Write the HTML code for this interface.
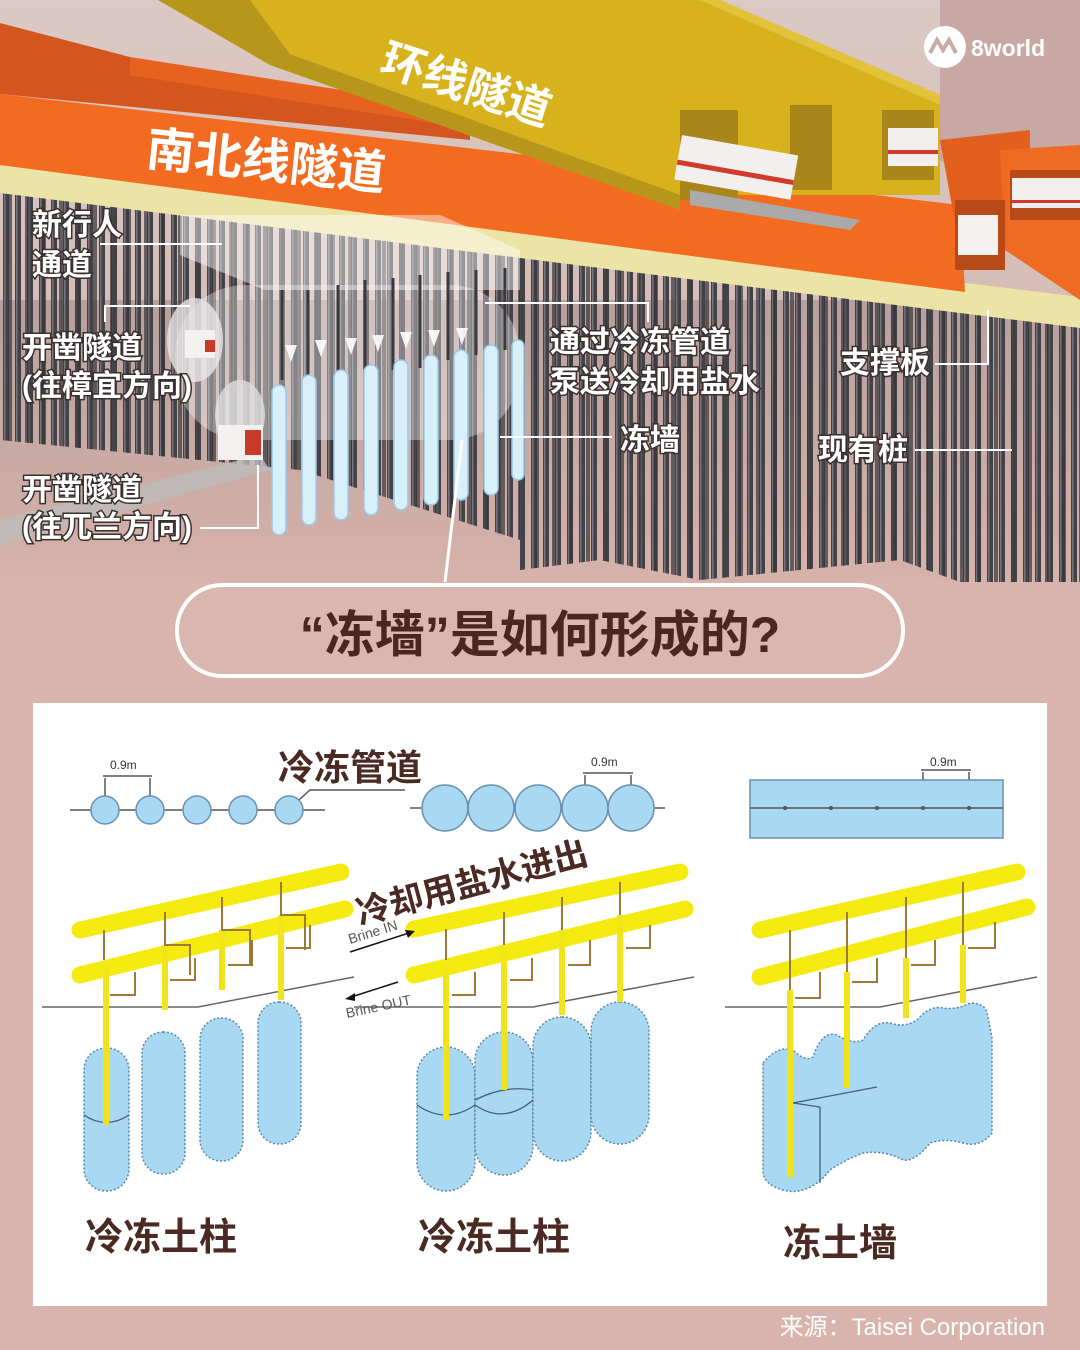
<!DOCTYPE html>
<html><head><meta charset="utf-8"><style>
html,body{margin:0;padding:0;background:#d8b4ad;}
svg{display:block;font-family:"Liberation Sans","Noto Sans CJK SC",sans-serif;}
.lb{fill:#fff;font-size:30px;font-weight:700;stroke:#3a3030;stroke-width:3px;paint-order:stroke;}
.ld{stroke:#fff;stroke-width:2;fill:none;}
.col{fill:#a9d8f2;stroke:#5a86a8;stroke-width:1.5;stroke-dasharray:2 2;}
.yp{stroke:#f5ea10;stroke-linecap:round;}
.vp{stroke:#f2e41a;stroke-width:6;}
.br{stroke:#9c7a3a;stroke-width:2;fill:none;}
.t{fill:#4a2a22;font-weight:700;}
</style></head><body>
<svg width="1080" height="1350" viewBox="0 0 1080 1350" xmlns="http://www.w3.org/2000/svg">
<defs>
<linearGradient id="sky" x1="0" y1="0" x2="0" y2="1"><stop offset="0" stop-color="#dcc9c3"/><stop offset="1" stop-color="#d0b2ab"/></linearGradient>
<linearGradient id="ground" x1="0" y1="0" x2="0" y2="1"><stop offset="0" stop-color="#b9a09c"/><stop offset="1" stop-color="#d6b2aa"/></linearGradient>
<pattern id="piles" width="12" height="600" patternUnits="userSpaceOnUse"><rect x="3" y="0" width="6" height="600" fill="#434247"/><rect x="4" y="0" width="1.5" height="600" fill="#76747a"/></pattern>
<pattern id="piles2" width="17" height="600" patternUnits="userSpaceOnUse" x="6"><rect x="2" y="0" width="4" height="600" fill="#36353a"/></pattern>
<clipPath id="pc"><polygon points="0,190 1080,326 1080,582 960,582 900,560 700,580 600,560 520,570 520,540 300,470 0,440"/></clipPath>
</defs>
<rect x="0" y="0" width="1080" height="582" fill="url(#sky)"/>
<polygon points="940,0 1080,0 1080,230 1000,200 940,160" fill="#c7a8a3"/>
<rect x="0" y="300" width="1080" height="282" fill="url(#ground)"/>
<g clip-path="url(#pc)"><rect x="0" y="180" width="1080" height="410" fill="url(#piles)"/><rect x="0" y="180" width="1080" height="410" fill="url(#piles2)" opacity="0.7"/></g>
<polygon points="0,165 1080,297 1080,328 0,193" fill="#ebe4a6"/>
<polygon points="0,23 130,57 130,75 470,125 470,140 0,94" fill="#d4561f"/>
<polygon points="130,57 470,110 480,130 130,75" fill="#e8621f"/>
<polygon points="0,94 960,205 965,292 0,165" fill="#f26b20"/>
<polygon points="940,140 1030,130 1030,240 960,250" fill="#e35f1e"/>
<polygon points="1000,150 1080,145 1080,300 1005,250" fill="#ef6a22"/>
<rect x="955" y="200" width="50" height="70" fill="#b84a1a"/>
<rect x="958" y="215" width="40" height="40" fill="#f4f2f0"/>
<rect x="1010" y="170" width="70" height="50" fill="#b84a1a"/>
<rect x="1012" y="178" width="68" height="30" fill="#f2f0ee"/>
<rect x="1012" y="200" width="68" height="3" fill="#d23a2a"/>
<polygon points="158,0 720,0 940,95 940,195 680,195 290,54 250,0" fill="#d7b21c"/>
<polygon points="158,0 250,0 290,54 680,195 680,210 270,65" fill="#b8961a"/>
<polygon points="720,0 940,95 940,105 700,0" fill="#e2c23a"/>
<rect x="680" y="110" width="58" height="90" fill="#a8861a"/>
<rect x="790" y="105" width="42" height="85" fill="#a8861a"/>
<rect x="882" y="110" width="52" height="70" fill="#a8861a"/>
<rect x="682" y="135" width="118" height="45" fill="#f2f0ee" transform="rotate(10 682 135)"/>
<rect x="682" y="160" width="118" height="5" fill="#d23a2a" transform="rotate(10 682 135)"/>
<rect x="888" y="128" width="50" height="38" fill="#f2f0ee"/>
<rect x="888" y="150" width="50" height="4" fill="#d23a2a"/>
<polygon points="690,190 860,220 850,230 690,205" fill="#aaa"/>
<text x="0" y="0" transform="translate(378 72) rotate(18)" fill="#fff" font-size="44" font-weight="700">环线隧道</text>
<text x="0" y="0" transform="translate(145 165) rotate(6)" fill="#fff" font-size="48" font-weight="700">南北线隧道</text>
<circle cx="945" cy="47" r="21" fill="#fff"/>
<path d="M930 53 L937 40 L943 50 L949 40 L956 53" stroke="#c9aaa5" stroke-width="4" fill="none"/>
<text x="971" y="56" fill="#fff" font-size="23" font-weight="700">8world</text>
<polygon points="180,215 440,215 520,250 520,290 265,290 180,255" fill="#ffffff" opacity="0.45"/>
<rect x="175" y="285" width="345" height="155" rx="70" fill="#ffffff" opacity="0.35"/>
<ellipse cx="195" cy="340" rx="28" ry="42" fill="#e8e6e6" opacity="0.8"/>
<rect x="185" y="330" width="30" height="28" fill="#f3f1f0"/><rect x="205" y="340" width="10" height="12" fill="#c83a2a"/>
<ellipse cx="240" cy="415" rx="25" ry="35" fill="#ddd" opacity="0.8"/>
<polygon points="0,520 260,455 270,470 0,545" fill="#bbb" opacity="0.8"/>
<rect x="218" y="425" width="45" height="35" fill="#f3f1f0"/><rect x="245" y="430" width="16" height="25" fill="#c83a2a"/>
<g stroke="#3a3a3e" stroke-width="3">
<line x1="282" y1="290" x2="282" y2="380"/><line x1="308" y1="290" x2="308" y2="380"/><line x1="338" y1="285" x2="338" y2="380"/><line x1="365" y1="280" x2="365" y2="375"/><line x1="393" y1="278" x2="393" y2="370"/><line x1="420" y1="275" x2="420" y2="368"/><line x1="448" y1="272" x2="448" y2="360"/><line x1="476" y1="270" x2="476" y2="355"/><line x1="505" y1="268" x2="505" y2="350"/></g>
<g fill="#fff" opacity="0.9">
<polygon points="285,345 297,345 291,362"/><polygon points="315,340 327,340 321,357"/><polygon points="345,338 357,338 351,355"/><polygon points="372,335 384,335 378,352"/><polygon points="400,332 412,332 406,349"/><polygon points="428,330 440,330 434,347"/><polygon points="456,328 468,328 462,345"/></g>
<g fill="#d8f0fb" stroke="#9cc9e4" stroke-width="1.5">
<rect x="272" y="385" width="14" height="150" rx="7"/><rect x="302" y="375" width="14" height="150" rx="7"/><rect x="334" y="370" width="14" height="150" rx="7"/><rect x="364" y="365" width="14" height="150" rx="7"/><rect x="394" y="360" width="14" height="150" rx="7"/><rect x="424" y="355" width="14" height="150" rx="7"/><rect x="454" y="350" width="14" height="150" rx="7"/><rect x="484" y="345" width="14" height="150" rx="7"/><rect x="512" y="340" width="12" height="140" rx="6"/></g>
<text class="lb" x="32" y="235">新行人</text><text class="lb" x="32" y="275">通道</text>
<line class="ld" x1="100" y1="244" x2="222" y2="244"/>
<polyline class="ld" points="105,322 105,306 190,306"/>
<text class="lb" x="22" y="358">开凿隧道</text><text class="lb" x="22" y="396">(往樟宜方向)</text>
<text class="lb" x="22" y="500">开凿隧道</text><text class="lb" x="22" y="537">(往兀兰方向)</text>
<polyline class="ld" points="200,528 258,528 258,465"/>
<polyline class="ld" points="485,303 648,303 648,322"/>
<text class="lb" x="550" y="352">通过冷冻管道</text><text class="lb" x="550" y="392">泵送冷却用盐水</text>
<line class="ld" x1="500" y1="437" x2="612" y2="437"/>
<text class="lb" x="620" y="450">冻墙</text>
<text class="lb" x="840" y="373">支撑板</text>
<polyline class="ld" points="935,364 988,364 988,310"/>
<text class="lb" x="818" y="460">现有桩</text>
<line class="ld" x1="915" y1="450" x2="1012" y2="450"/>
<line x1="445" y1="582" x2="462" y2="440" stroke="#fff" stroke-width="3"/>
<rect x="0" y="582" width="1080" height="768" fill="#d8b4ad"/>
<rect x="177" y="585" width="726" height="91" rx="45" fill="#d9b6af" stroke="#fff" stroke-width="4"/>
<text x="540" y="652" text-anchor="middle" fill="#4a2620" font-size="50" font-weight="700">“冻墙”是如何形成的?</text>
<rect x="33" y="703" width="1014" height="603" fill="#fff"/>
<g stroke="#555" stroke-width="1.5" fill="none">
<line x1="70" y1="810" x2="325" y2="810"/><line x1="410" y1="808" x2="665" y2="808"/>
<line x1="105" y1="778" x2="105" y2="810"/><line x1="150" y1="778" x2="150" y2="810"/><line x1="103" y1="776" x2="152" y2="776"/>
<line x1="585" y1="775" x2="585" y2="808"/><line x1="631" y1="775" x2="631" y2="808"/><line x1="583" y1="773" x2="633" y2="773"/>
<line x1="923" y1="772" x2="923" y2="808"/><line x1="969" y1="772" x2="969" y2="808"/><line x1="921" y1="770" x2="971" y2="770"/>
<polyline points="290,808 310,790 405,790"/></g>
<g class="col" style="stroke-dasharray:none;stroke:#6a8fb0">
<circle cx="105" cy="810" r="14"/><circle cx="150" cy="810" r="14"/><circle cx="197" cy="810" r="14"/><circle cx="243" cy="810" r="14"/><circle cx="289" cy="810" r="14"/>
<circle cx="445" cy="808" r="23"/><circle cx="491" cy="808" r="23"/><circle cx="538" cy="808" r="23"/><circle cx="585" cy="808" r="23"/><circle cx="631" cy="808" r="23"/>
<rect x="750" y="780" width="253" height="58"/></g>
<line x1="750" y1="808" x2="1003" y2="808" stroke="#555" stroke-width="1.5"/>
<g fill="#555"><circle cx="785" cy="808" r="2"/><circle cx="831" cy="808" r="2"/><circle cx="877" cy="808" r="2"/><circle cx="923" cy="808" r="2"/><circle cx="969" cy="808" r="2"/></g>
<text x="110" y="769" font-size="12" fill="#333">0.9m</text><text x="591" y="766" font-size="12" fill="#333">0.9m</text><text x="930" y="766" font-size="12" fill="#333">0.9m</text>
<text class="t" x="278" y="780" font-size="36">冷冻管道</text>
<polyline points="42,1007 198,1007 354,977" stroke="#666" stroke-width="1.5" fill="none"/>
<polyline points="354,1007 533,1007 694,977" stroke="#666" stroke-width="1.5" fill="none"/>
<polyline points="725,1007 880,1007 1037,977" stroke="#666" stroke-width="1.5" fill="none"/>
<g class="col">
<rect x="84" y="1048" width="45" height="143" rx="22"/><rect x="142" y="1032" width="43" height="142" rx="21"/><rect x="200" y="1018" width="43" height="143" rx="21"/><rect x="258" y="1002" width="43" height="142" rx="21"/>
<rect x="417" y="1047" width="58" height="144" rx="29"/><rect x="475" y="1032" width="58" height="143" rx="29"/><rect x="533" y="1017" width="58" height="144" rx="29"/><rect x="591" y="1002" width="58" height="142" rx="29"/>
<path d="M763,1063 Q778,1045 793,1050 Q805,1062 813,1057 Q822,1030 837,1035 Q852,1045 863,1040 Q875,1020 890,1023 Q905,1028 917,1020 Q930,1005 943,1008 Q957,1010 970,1003 Q985,1003 987,1013 L992,1037 L992,1133 Q980,1148 963,1143 Q945,1138 930,1143 Q915,1162 903,1160 Q885,1150 863,1153 Q845,1160 830,1170 Q822,1180 817,1183 Q800,1195 783,1190 Q765,1185 763,1173 Z"/></g>
<g stroke="#44607a" stroke-width="1.3" fill="none">
<path d="M84,1115 Q106,1130 129,1115"/><path d="M417,1105 Q446,1125 475,1105 Q504,1125 533,1100"/><path d="M475,1100 Q504,1085 533,1090"/>
<polyline points="793,1103 877,1087"/><line x1="820" y1="1107" x2="820" y2="1183"/><line x1="793" y1="1103" x2="820" y2="1107"/></g>
<g class="yp"><line x1="80" y1="930" x2="341" y2="872" stroke-width="17"/><line x1="80" y1="975" x2="345" y2="909" stroke-width="17"/>
<line x1="414" y1="929" x2="680" y2="872" stroke-width="17"/><line x1="414" y1="975" x2="685" y2="909" stroke-width="17"/>
<line x1="760" y1="930" x2="1017" y2="872" stroke-width="17"/><line x1="760" y1="977" x2="1027" y2="907" stroke-width="17"/></g>
<g class="vp">
<line x1="106" y1="965" x2="106" y2="1125"/><line x1="165" y1="945" x2="165" y2="1010"/><line x1="222" y1="930" x2="222" y2="990"/><line x1="281" y1="915" x2="281" y2="1000"/>
<line x1="446" y1="965" x2="446" y2="1120"/><line x1="504" y1="945" x2="504" y2="1090"/><line x1="562" y1="930" x2="562" y2="1015"/><line x1="620" y1="915" x2="620" y2="1002"/>
<line x1="790" y1="990" x2="790" y2="1177"/><line x1="847" y1="972" x2="847" y2="1088"/><line x1="906" y1="958" x2="906" y2="1018"/><line x1="963" y1="945" x2="963" y2="1003"/></g>
<g class="br">
<polyline points="104,930 104,960"/><polyline points="165,912 165,945 190,945 190,975"/><polyline points="222,897 222,930 250,930 250,965"/><polyline points="281,882 281,915 305,915 305,950"/>
<polyline points="110,995 135,995 135,972"/><polyline points="170,980 195,980 195,958"/><polyline points="228,965 252,965 252,940"/><polyline points="286,948 310,948 310,925"/>
<polyline points="446,929 446,960"/><polyline points="504,912 504,945"/><polyline points="562,897 562,930"/><polyline points="620,882 620,915"/>
<polyline points="452,995 475,995 475,972"/><polyline points="510,980 532,980 532,958"/><polyline points="568,965 590,965 590,940"/><polyline points="626,948 650,948 650,925"/>
<polyline points="790,930 790,990"/><polyline points="847,912 847,972"/><polyline points="906,897 906,958"/><polyline points="963,882 963,945"/>
<polyline points="795,998 820,998 820,972"/><polyline points="852,982 877,982 877,958"/><polyline points="911,965 935,965 935,940"/><polyline points="968,948 995,948 995,922"/></g>
<line x1="350" y1="952" x2="412" y2="932" stroke="#111" stroke-width="1.5"/><polygon points="415,931 405,930 408,938" fill="#111"/>
<line x1="398" y1="982" x2="348" y2="998" stroke="#111" stroke-width="1.5"/><polygon points="345,999 355,993 355,1001" fill="#111"/>
<text transform="translate(350 944) rotate(-17)" font-size="14" fill="#555">Brine IN</text>
<text transform="translate(347 1018) rotate(-12)" font-size="14" fill="#555">Brine OUT</text>
<text class="t" transform="translate(360 925) rotate(-15)" font-size="34">冷却用盐水进出</text>
<text class="t" x="85" y="1250" font-size="38">冷冻土柱</text>
<text class="t" x="418" y="1250" font-size="38">冷冻土柱</text>
<text class="t" x="783" y="1256" font-size="38">冻土墙</text>
<text x="1045" y="1335" text-anchor="end" fill="#fff" font-size="24">来源：Taisei Corporation</text>
</svg>
</body></html>
